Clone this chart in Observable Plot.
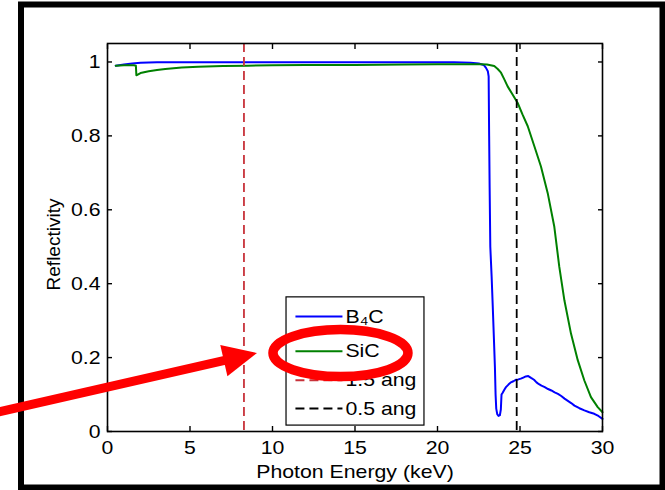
<!DOCTYPE html>
<html><head><meta charset="utf-8">
<script src="https://cdn.jsdelivr.net/npm/d3@7"></script>
<script src="https://cdn.jsdelivr.net/npm/@observablehq/plot@0.6"></script>
<style>
body{margin:0;background:#fff;}
#wrap{position:relative;width:665px;height:490px;overflow:hidden;background:#fff;}
</style></head><body><div id="wrap"></div>
<script>
// ---- data ----
const b4cEnergy = [0.5,1.0,1.5,2.0,3.0,6,10,14,18,20,21,22,22.5,22.8,22.94,23.05,23.1,23.13,23.16,23.2,23.28,23.35,23.42,23.48,23.52,23.56,23.62,23.7,23.78,23.84,23.88,23.95,24.05,24.15,24.3,24.45,24.6,24.75,24.9,25.05,25.2,25.35,25.5,25.67,25.85,26.0,26.15,26.3,26.5,26.7,26.9,27.1,27.3,27.5,27.7,27.9,28.1,28.3,28.6,28.9,29.2,29.5,29.75,30.0];
const b4cRefl   = [0.990,0.993,0.996,0.998,0.999,0.999,0.999,0.999,0.999,0.999,0.999,0.998,0.996,0.992,0.984,0.975,0.961,0.80,0.66,0.50,0.42,0.337,0.25,0.174,0.10,0.062,0.047,0.042,0.044,0.06,0.10,0.105,0.113,0.12,0.127,0.133,0.136,0.14,0.141,0.143,0.146,0.149,0.15,0.145,0.14,0.133,0.128,0.124,0.12,0.115,0.111,0.106,0.102,0.096,0.089,0.083,0.077,0.07,0.063,0.057,0.052,0.048,0.042,0.034];
const sicEnergy = [0.5,1.0,1.6,1.72,1.75,2.0,2.5,3.0,3.5,4.5,5.5,7,8.5,10,12,15,18,20,22,22.64,23.0,23.44,23.65,23.85,24.05,24.25,24.55,24.86,25.15,25.47,25.87,26.27,26.68,27.08,27.38,27.69,28.09,28.5,28.9,29.3,29.71,30.0];
const sicRefl   = [0.990,0.991,0.991,0.990,0.964,0.970,0.975,0.978,0.981,0.985,0.987,0.989,0.990,0.991,0.992,0.992,0.993,0.994,0.994,0.994,0.993,0.989,0.981,0.971,0.953,0.934,0.912,0.889,0.858,0.826,0.772,0.717,0.645,0.554,0.446,0.355,0.265,0.193,0.138,0.093,0.066,0.052];
const seriesNames = ["B\u2084C", "SiC"];
const markerNames = ["1.5 ang", "0.5 ang"];
const markerEnergy = [8.27, 24.8];
const xTicks = [0,5,10,15,20,25,30];
const xTickLabels = ["0","5","10","15","20","25","30"];
const yTicks = [0,0.2,0.4,0.6,0.8,1];
const yTickLabels = ["0","0.2","0.4","0.6","0.8","1"];
const xLabel = "Photon Energy (keV)";
const yLabel = "Reflectivity";

// ---- styles / layout (not data) ----
const seriesColors = ["#0000ff", "#008000"];
const markerColors = ["#c8323a", "#000000"];
const legendBox = {x1: 10.85, x2: 19.21, y1: 0.016, y2: 0.363};
const legendRowsY = [0.311, 0.2173, 0.1388, 0.0622];
const legendLineX = [11.39, 14.24];
const legendTextX = 14.42;

const b4c = b4cEnergy.map((e,i) => ({e, r: b4cRefl[i]}));
const sic = sicEnergy.map((e,i) => ({e, r: sicRefl[i]}));
const legendRows = [
  {name: seriesNames[0], color: seriesColors[0], dashed: false, y: legendRowsY[0]},
  {name: seriesNames[1], color: seriesColors[1], dashed: false, y: legendRowsY[1]},
  {name: markerNames[0], color: markerColors[0], dashed: true, y: legendRowsY[2]},
  {name: markerNames[1], color: markerColors[1], dashed: true, y: legendRowsY[3]}
];
const markers = markerEnergy.map((e,i) => ({e, color: markerColors[i]}));
const fx = d => xTickLabels[xTicks.indexOf(d)];
const fy = d => yTickLabels[yTicks.findIndex(t => Math.abs(t - d) < 1e-9)];

const plot = Plot.plot({
  width: 665, height: 490,
  marginLeft: 107, marginRight: 63, marginTop: 43, marginBottom: 59,
  style: {fontFamily: "'Liberation Sans', Arial, sans-serif", fontSize: "19px", background: "white", color: "black"},
  x: {domain: [0, 30]},
  y: {domain: [0, 1.05]},
  marks: [
    Plot.line(b4c, {x: "e", y: "r", stroke: seriesColors[0], strokeWidth: 2}),
    Plot.line(sic, {x: "e", y: "r", stroke: seriesColors[1], strokeWidth: 2}),
    Plot.ruleX(markers, {x: "e", stroke: "color", strokeWidth: 1.8, strokeDasharray: "9,5"}),
    Plot.frame({stroke: "black", strokeWidth: 1.6}),
    Plot.axisX({anchor: "bottom", ticks: xTicks, tickFormat: fx, tickSize: -5, tickPadding: 14, label: null, strokeWidth: 1.4}),
    Plot.axisX({anchor: "top", ticks: xTicks, tickFormat: () => "", tickSize: -5, label: null, strokeWidth: 1.4}),
    Plot.axisY({anchor: "left", ticks: yTicks, tickFormat: fy, tickSize: -5, tickPadding: 12, label: null, strokeWidth: 1.4}),
    Plot.axisY({anchor: "right", ticks: yTicks, tickFormat: () => "", tickSize: -5, label: null, strokeWidth: 1.4}),
    Plot.text([xLabel], {text: d => d, frameAnchor: "bottom", dy: 40, lineAnchor: "middle", textAnchor: "middle"}),
    Plot.text([yLabel], {text: d => d, frameAnchor: "left", dx: -54, dy: 7, rotate: -90, lineAnchor: "middle", textAnchor: "middle"}),
    // legend
    Plot.rect([legendBox], {x1: "x1", x2: "x2", y1: "y1", y2: "y2", fill: "white", stroke: "black", strokeWidth: 1.2}),
    Plot.link(legendRows.filter(d => !d.dashed), {x1: legendLineX[0], x2: legendLineX[1], y1: "y", y2: "y", stroke: "color", strokeWidth: 2}),
    Plot.link(legendRows.filter(d => d.dashed), {x1: legendLineX[0], x2: legendLineX[1], y1: "y", y2: "y", stroke: "color", strokeWidth: 2, strokeDasharray: "9,5"}),
    Plot.text(legendRows, {x: legendTextX, y: "y", text: "name", textAnchor: "start", lineAnchor: "middle", fill: "black"})
  ]
});
document.getElementById("wrap").appendChild(plot);

// annotation overlay (drawn through the plot's own scales)
const sx = plot.scale("x"), sy = plot.scale("y");
const X = d3.scaleLinear(sx.domain, sx.range), Y = d3.scaleLinear(sy.domain, sy.range);
const svg = d3.select(plot);
const ann = svg.append("g");
// outer figure border
ann.append("rect").attr("x", 21).attr("y", 4.5).attr("width", 641.5).attr("height", 483)
  .attr("fill", "none").attr("stroke", "black").attr("stroke-width", 6);
const red = "#ff0000";
const ellipseAt = {e: 14.15, r: 0.211};
ann.append("ellipse").attr("cx", X(ellipseAt.e)).attr("cy", Y(ellipseAt.r)).attr("rx", 67.5).attr("ry", 23.5)
  .attr("fill", "none").attr("stroke", red).attr("stroke-width", 9.5);
const arrowFrom = {e: -6.8, r: 0.049}, arrowTo = {e: 9.09, r: 0.211};
const x0 = X(arrowFrom.e), y0 = Y(arrowFrom.r), x1 = X(arrowTo.e), y1 = Y(arrowTo.r);
const len = Math.hypot(x1-x0, y1-y0), ux = (x1-x0)/len, uy = (y1-y0)/len, nx = -uy, ny = ux;
const L = 34, W = 16;
const bx = x1 - L*ux, by = y1 - L*uy;
ann.append("line").attr("x1", x0).attr("y1", y0).attr("x2", bx + 2*ux).attr("y2", by + 2*uy)
  .attr("stroke", red).attr("stroke-width", 9);
ann.append("path").attr("d", `M${x1},${y1}L${bx+W*nx},${by+W*ny}L${bx-W*nx},${by-W*ny}Z`).attr("fill", red);

// horizontal text in the reference is slightly wide
plot.querySelectorAll("text").forEach(t => {
  if ((t.getAttribute("transform") || "").includes("rotate")) return;
  const l = t.getComputedTextLength();
  if (l > 0) { t.setAttribute("textLength", (l * 1.12).toFixed(1)); t.setAttribute("lengthAdjust", "spacingAndGlyphs"); }
});
</script></body></html>
